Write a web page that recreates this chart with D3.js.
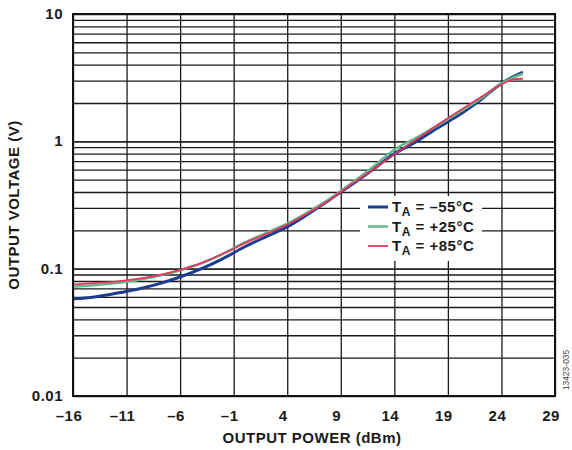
<!DOCTYPE html>
<html>
<head>
<meta charset="utf-8">
<script src="https://cdn.jsdelivr.net/npm/d3@7"></script>
<style>
  body { margin: 0; background: #fff; }
  svg { display: block; font-family: Arial, "Liberation Sans", sans-serif; }
  .axis path { display: none; }
  .grid line { stroke: #1a1a1a; stroke-width: 1.3px; }
  .lbl { font-weight: bold; font-size: 15px; letter-spacing: 0.5px; fill: #1a1a1a; }
</style>
</head>
<body>
<svg id="chart"></svg>
<script>
// Output voltage vs output power at three temperatures
var powerPts = [-16, -14, -12, -10, -8, -6, -4, -2, 0, 2, 4, 6, 8, 10, 12, 14, 16, 18, 20, 22, 24, 26];
var voltM55 = [0.058, 0.060, 0.064, 0.069, 0.076, 0.086, 0.100, 0.120, 0.148, 0.178, 0.213, 0.270, 0.350, 0.455, 0.600, 0.800, 0.990, 1.270, 1.600, 2.100, 2.850, 3.500];
var voltP25 = [0.072, 0.074, 0.077, 0.081, 0.088, 0.097, 0.110, 0.131, 0.160, 0.190, 0.226, 0.280, 0.355, 0.470, 0.630, 0.860, 1.060, 1.330, 1.680, 2.150, 2.850, 3.400];
var powerP85 = [-16, -14, -12, -10, -8, -6, -4, -2, 0, 2, 4, 6, 8, 10, 12, 14, 16, 18, 20, 22, 24, 25, 26];
var voltP85 = [0.075, 0.077, 0.079, 0.083, 0.089, 0.098, 0.111, 0.131, 0.158, 0.187, 0.222, 0.275, 0.350, 0.460, 0.600, 0.790, 1.030, 1.340, 1.720, 2.200, 2.800, 3.050, 3.100];

var xTicks = [-16, -11, -6, -1, 4, 9, 14, 19, 24, 29];
var yTicks = [0.01, 0.1, 1, 10];
var yTickLabels = ["0.01", "0.1", "1", "10"];
var legendNames = ["\u201355\u00b0C", "+25\u00b0C", "+85\u00b0C"];
var colors = ["#1b3c8f", "#64b98a", "#e5375c"];

var W = 572, H = 450;
var margin = {top: 14, right: 17, bottom: 54, left: 73};
var width = W - margin.left - margin.right;
var height = H - margin.top - margin.bottom;

var svg = d3.select("#chart").attr("width", W).attr("height", H);
var g = svg.append("g").attr("transform", "translate(" + margin.left + "," + margin.top + ")");

var xScale = d3.scaleLinear().domain([-16, 29]).range([0, width]);
var yScale = d3.scaleLog().domain([0.01, 10]).range([height, 0]);

// minor log grid values
var yGrid = [];
[0.01, 0.1, 1].forEach(function(dec){
    for (var k = 1; k <= 10; k++) yGrid.push(dec * k);
});

// horizontal grid
g.append("g")
    .attr("class", "axis grid")
    .call(d3.axisLeft(yScale).tickValues(yGrid).tickSize(-width).tickFormat(""))
    .selectAll("text").remove();

// vertical grid
g.append("g")
    .attr("class", "axis grid")
    .attr("transform", "translate(0," + height + ")")
    .call(d3.axisBottom(xScale).tickValues(xTicks).tickSize(-height).tickFormat(""));

// legend box (covers grid)
var legend = g.append("g").attr("transform", "translate(" + (360 - margin.left) + "," + (196 - margin.top) + ")");
legend.append("rect").attr("width", 122).attr("height", 65).attr("fill", "#fff");

// curves
var series = [
    {x: powerPts, y: voltM55, w: 3},
    {x: powerPts, y: voltP25, w: 2.5},
    {x: powerP85, y: voltP85, w: 1.8}
];
var line = d3.line()
    .x(function(d){ return xScale(d[0]); })
    .y(function(d){ return yScale(d[1]); })
    .curve(d3.curveCatmullRom);

series.forEach(function(s, i){
    g.append("path")
        .datum(d3.zip(s.x, s.y))
        .attr("fill", "none")
        .attr("stroke", colors[i])
        .attr("stroke-width", s.w)
        .attr("d", line);
});

// legend entries
legendNames.forEach(function(name, i){
    var yy = 11 + i * 19.5;
    legend.append("line")
        .attr("x1", 8).attr("x2", 28)
        .attr("y1", yy).attr("y2", yy)
        .attr("stroke", colors[i])
        .attr("stroke-width", series[i].w);
    var t = legend.append("text")
        .attr("class", "lbl")
        .attr("x", 32).attr("y", yy + 5);
    t.append("tspan").text("T");
    t.append("tspan").attr("font-size", "12px").attr("dy", 4).text("A");
    t.append("tspan").attr("dy", -4).text(" = " + name);
});

// frame
g.append("rect")
    .attr("width", width).attr("height", height)
    .attr("fill", "none").attr("stroke", "#111").attr("stroke-width", 2);

// x tick labels
g.selectAll(".xlab")
    .data(xTicks)
    .enter().append("text")
    .attr("class", "lbl")
    .attr("text-anchor", "middle")
    .attr("x", function(d){ return xScale(d) - 4; })
    .attr("y", height + 25)
    .text(function(d){ return d < 0 ? "\u2013" + Math.abs(d) : d; });

// y tick labels
g.selectAll(".ylab")
    .data(yTicks)
    .enter().append("text")
    .attr("class", "lbl")
    .attr("text-anchor", "end")
    .attr("x", -10)
    .attr("y", function(d){ return yScale(d) + 5; })
    .text(function(d, i){ return yTickLabels[i]; });

// axis titles
svg.append("text")
    .attr("class", "lbl")
    .attr("text-anchor", "middle")
    .attr("x", margin.left + width / 2 - 2)
    .attr("y", 443)
    .text("OUTPUT POWER (dBm)");

svg.append("text")
    .attr("class", "lbl")
    .attr("text-anchor", "middle")
    .attr("transform", "translate(19," + (margin.top + height / 2) + ") rotate(-90)")
    .text("OUTPUT VOLTAGE (V)");

// figure id
svg.append("text")
    .attr("text-anchor", "middle")
    .attr("font-size", "8.5px")
    .attr("fill", "#444")
    .attr("transform", "translate(569,370) rotate(-90)")
    .text("13423-035");
</script>
</body>
</html>
